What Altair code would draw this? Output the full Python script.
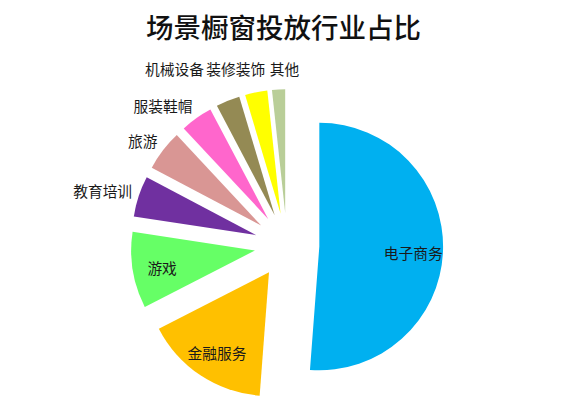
import altair as alt
import pandas as pd

categories = ["电子商务", "金融服务", "游戏", "教育培训", "旅游", "服装鞋帽", "机械设备", "装修装饰", "其他"]
shares = [51.0, 16.2, 9.9, 5.3, 5.3, 4.2, 3.1, 2.9, 1.7]
colors = ["#00B0F0", "#FFC000", "#66FF66", "#7030A0", "#D99694", "#FF66CC", "#948A54", "#FFFF00", "#B9CE98"]

df = pd.DataFrame({"cat": categories, "share": shares, "idx": list(range(len(categories)))})

CX, CY = 279, 201   # pie centre in plot coordinates (pixels)
R = 126             # slice radius
D = 33              # explode distance
FS = 15             # label font size

base = (
    alt.Chart(df)
    .transform_joinaggregate(total="sum(share)")
    .transform_window(cum="sum(share)", sort=[alt.SortField("idx")], frame=[None, 0])
    .transform_calculate(mid="(datum.cum - datum.share / 2) / datum.total * 2 * PI")
    .transform_calculate(
        ax=f"{CX} + {D} * sin(datum.mid)",
        ay=f"{CY} - {D} * cos(datum.mid)",
    )
)

pie = base.mark_arc(outerRadius=R).encode(
    x=alt.X("ax:Q", scale=None, axis=None),
    y=alt.Y("ay:Q", scale=None, axis=None),
    theta=alt.Theta("share:Q", stack=True),
    order=alt.Order("idx:Q"),
    color=alt.Color("cat:N", scale=alt.Scale(domain=categories, range=colors), legend=None),
)

def text_layer(chart, align):
    return chart.mark_text(
        fontSize=FS, font="Noto Sans CJK SC", align=align, baseline="middle", color="#1a1a1a"
    ).encode(
        x=alt.X("lx:Q", scale=None, axis=None),
        y=alt.Y("ly:Q", scale=None, axis=None),
        text="cat:N",
    )

# large slices: label inside the slice
inside = text_layer(
    base.transform_filter("datum.share / datum.total > 0.08").transform_calculate(
        lx=f"datum.ax + {0.76 * R} * sin(datum.mid)",
        ly=f"datum.ay - {0.76 * R} * cos(datum.mid) + 4",
    ),
    "center",
)

# small slices on the left: label just outside the arc, right aligned
outside = text_layer(
    base.transform_filter("datum.share / datum.total <= 0.08 && cos(datum.mid) <= 0.87").transform_calculate(
        lx=f"datum.ax + {R + 7} * sin(datum.mid)",
        ly=f"datum.ay - {R + 6} * cos(datum.mid) - {FS / 2} * cos(datum.mid)",
    ),
    "right",
)

# small slices near the top: labels spread along one row above the pie
row = text_layer(
    base.transform_filter("datum.share / datum.total <= 0.08 && cos(datum.mid) > 0.87").transform_calculate(
        lx=f"{CX + 16} + 345 * sin(datum.mid)",
        ly=f"{CY - 178}",
    ),
    "center",
)

chart = (
    alt.layer(pie, inside, outside, row)
    .properties(
        width=551,
        height=330,
        title=alt.Title("场景橱窗投放行业占比", fontSize=28, font="Noto Sans CJK SC",
                        fontWeight=500, color="#111111", anchor="middle"),
    )
    .configure_view(stroke=None)
)

chart.save("out.html", embed_options={"renderer": "svg", "actions": False})
